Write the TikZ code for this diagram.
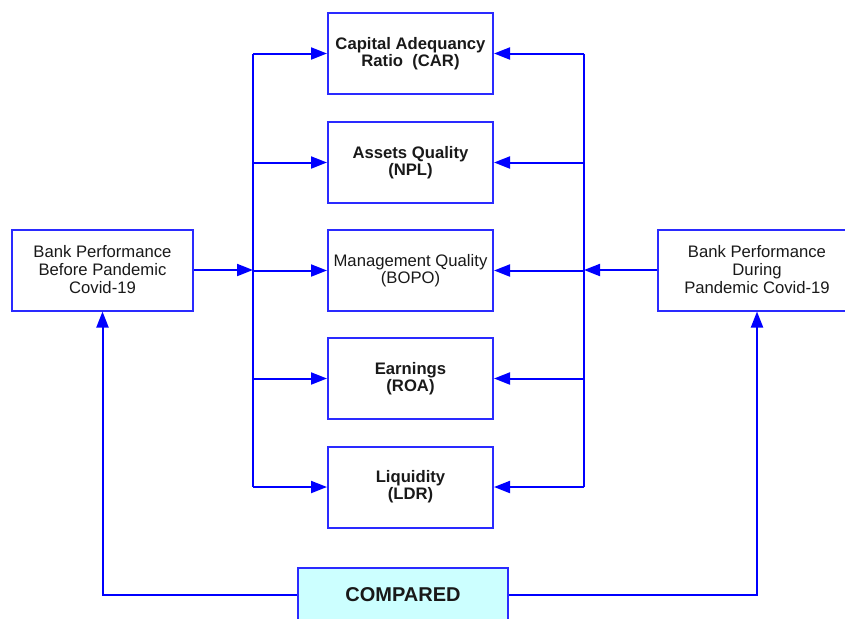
\documentclass[tikz,border=0pt]{standalone}
\usepackage{fontspec}
\setmainfont{Liberation Sans}
\usetikzlibrary{arrows.meta}
\definecolor{cmpfill}{HTML}{CCFFFF}
\definecolor{boxline}{HTML}{2A2AFF}
\tikzset{
  link/.style={blue, line width=1.5pt},
  arr/.style={link, -{Triangle[length=12pt,width=9pt]}},
  ratio/.style={draw=boxline, line width=1.5pt, minimum width=123.75pt, minimum height=60.75pt,
    align=center, inner sep=2pt, text=black!90, font=\fontsize{12.5}{12.75}\selectfont},
  perf/.style={ratio, minimum width=135.75pt, font=\fontsize{12.5}{13.5}\selectfont},
  cmpbox/.style={ratio, fill=cmpfill, minimum width=157.5pt, minimum height=40.5pt,
    font=\fontsize{15}{16}\selectfont\bfseries}
}
\begin{document}
\begin{tikzpicture}[x=0.75pt, y=-0.75pt]
\useasboundingbox (0,0) rectangle (845,618);
\node[ratio] (car) at (410.5, 53.5) {\bfseries Capital Adequancy\\\bfseries Ratio~ (CAR)};
\node[ratio] (npl) at (410.5, 162.5) {\bfseries Assets Quality\\\bfseries (NPL)};
\node[ratio] (bopo) at (410.5, 270.5) {Management Quality\\(BOPO)};
\node[ratio] (roa) at (410.5, 378.5) {\bfseries Earnings\\\bfseries (ROA)};
\node[ratio] (ldr) at (410.5, 487) {\bfseries Liquidity\\\bfseries (LDR)};
\node[perf] (before) at (102.5, 270) {Bank Performance\\Before Pandemic\\Covid-19};
\node[perf, minimum width=148.5pt] (during) at (757, 270) {Bank Performance\\During\\Pandemic Covid-19};
\node[cmpbox] (compared) at (403, 595) {COMPARED};
\coordinate (lbus) at (253, 0);
\coordinate (rbus) at (584, 0);
% buses
\draw[link] (car.west -| lbus) -- (ldr.west -| lbus);
\draw[link] (car.east -| rbus) -- (ldr.east -| rbus);
\foreach \x in {car,npl,bopo,roa,ldr} {
  \draw[arr] (\x.west -| lbus) -- (\x.west);
  \draw[arr] (\x.east -| rbus) -- (\x.east);
}
\draw[arr] (before.east) -- (before.east -| lbus);
\draw[arr] (during.west) -- (during.west -| rbus);
% comparison
\draw[arr] (compared.west) -| (before.south);
\draw[arr] (compared.east) -| (during.south);
\end{tikzpicture}
\end{document}
